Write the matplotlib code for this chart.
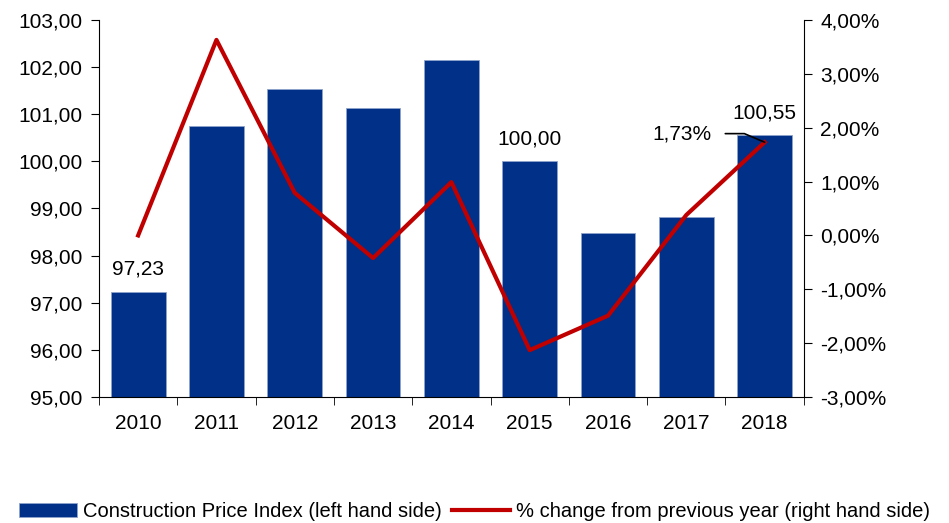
import matplotlib.pyplot as plt
from matplotlib.ticker import FuncFormatter

# Construction price index and yearly change
years = ["2010", "2011", "2012", "2013", "2014", "2015", "2016", "2017", "2018"]
price_index = [97.23, 100.75, 101.54, 101.14, 102.15, 100.00, 98.48, 98.82, 100.55]
pct_change = [0.00, 3.63, 0.79, -0.42, 0.99, -2.13, -1.49, 0.38, 1.73]

bar_color = "#003087"
line_color = "#c00000"

plt.rcParams["font.family"] = ["Liberation Sans", "DejaVu Sans"]
plt.rcParams["font.size"] = 15

fig, ax = plt.subplots(figsize=(9.49, 5.23), dpi=100)
fig.subplots_adjust(left=0.1043, right=0.847, top=0.9618, bottom=0.2409)

x = list(range(len(years)))
bars = ax.bar(x, price_index, width=0.7, bottom=0, color=bar_color,
              edgecolor="#8fa3cc", linewidth=0.6,
              label="Construction Price Index (left hand side)", zorder=2)
ax.set_ylim(95, 103)
ax.set_xlim(-0.5, len(years) - 0.5)
ax.set_yticks(range(95, 104))
ax.yaxis.set_major_formatter(FuncFormatter(lambda v, p: f"{v:.2f}".replace(".", ",")))
ax.set_xticks(x)
ax.set_xticklabels(years)
ax.set_xticks([i + 0.5 for i in x[:-1]] + [-0.5, len(years) - 0.5], minor=True)
ax.tick_params(axis="x", which="major", length=0, pad=12)
ax.tick_params(axis="x", which="minor", length=6, direction="out")
ax.tick_params(axis="y", length=6, direction="out", pad=6)
for side in ["top", "right"]:
    ax.spines[side].set_visible(False)

# value labels on selected bars
for i in [0, 5, 8]:
    ax.text(x[i], price_index[i] + 0.28, f"{price_index[i]:.2f}".replace(".", ","),
            ha="center", va="bottom")

ax2 = ax.twinx()
ax2.plot(x, pct_change, color=line_color, linewidth=3,
         label="% change from previous year (right hand side)", zorder=3)
ax2.set_ylim(-3, 4)
ax2.set_yticks(range(-3, 5))
ax2.yaxis.set_major_formatter(FuncFormatter(lambda v, p: f"{v:.2f}%".replace(".", ",")))
ax2.tick_params(axis="y", length=6, direction="out", pad=6)
for side in ["top", "left", "bottom"]:
    ax2.spines[side].set_visible(False)

# leader line for the last change value
ax2.annotate(f"{pct_change[-1]:.2f}%".replace(".", ","),
             xy=(x[-1], pct_change[-1]), xytext=(x[-1] - 0.68, pct_change[-1] + 0.16),
             ha="right", va="center",
             arrowprops=dict(arrowstyle="-", color="black", lw=1.2,
                             connectionstyle="angle,angleA=0,angleB=-23,rad=0",
                             shrinkA=8, shrinkB=0))

handles = [bars, ax2.get_lines()[0]]
labels = [h.get_label() for h in handles]
fig.legend(handles, labels, loc="lower center", bbox_to_anchor=(0.5, -0.022),
           ncol=2, frameon=False, handlelength=2.9, handletextpad=0.3,
           columnspacing=0.5, borderpad=0.15, fontsize=14.5)

fig.savefig("out.png", dpi=100)
